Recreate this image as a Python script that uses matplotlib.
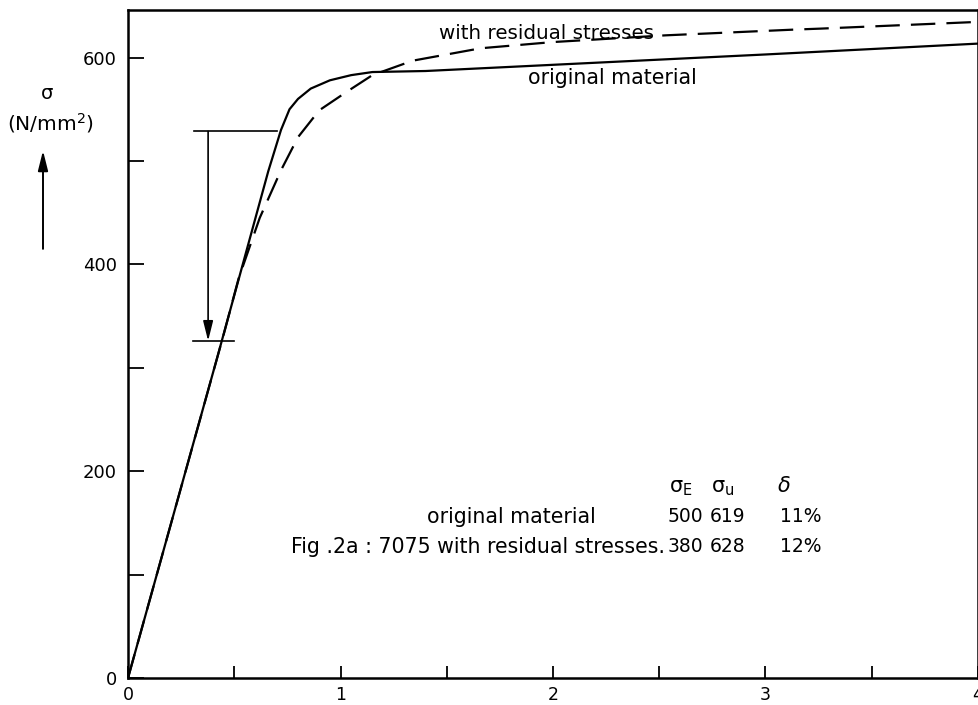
import matplotlib
matplotlib.use("Agg")
import matplotlib.pyplot as plt
import numpy as np

# stress-strain curves (strain in %, stress in N/mm2)
orig_x = [0, 0.42, 0.66, 0.72, 0.76, 0.80, 0.86, 0.95, 1.05, 1.15, 1.40, 2.0, 3.0, 4.0]
orig_y = [0, 310, 490, 530, 550, 560, 570, 578, 583, 586, 587, 593, 603, 613.5]

res_x = [0, 0.45, 0.52, 0.62, 0.72, 0.80, 0.90, 1.03, 1.15, 1.34, 1.66, 2.0, 2.53, 3.13, 3.26, 4.0]
res_y = [0, 332, 386, 445, 491, 523, 549, 567, 583, 597, 609, 615, 621.5, 627, 628, 634.5]

# stress drop marked by the arrow
drop_top = 528.6
drop_bottom = 326

# table of values
table_rows = ["original material", "Fig .2a : 7075 with residual stresses."]
sigma_e = ["500", "380"]
sigma_u = ["619", "628"]
delta = ["11%", "12%"]

plt.rcParams['font.family'] = ['DejaVu Sans']
plt.rcParams['mathtext.fontset'] = 'dejavusans'

fig = plt.figure(figsize=(9.79, 7.05), dpi=100)
ax = fig.add_axes([128 / 979, 27 / 705, 850 / 979, 668 / 705])

ax.plot(orig_x, orig_y, color='black', lw=1.6, solid_capstyle='butt')
ax.plot(res_x, res_y, color='black', lw=1.6, dashes=(11, 5))

ax.set_xlim(0, 4)
ax.set_ylim(0, 646)

for s in ax.spines.values():
    s.set_linewidth(1.8)

ax.set_xticks(np.arange(0, 4.01, 0.5))
ax.set_xticklabels(['0', '', '1', '', '2', '', '3', '', '4'])
ax.set_yticks(np.arange(0, 601, 100))
ax.set_yticklabels(['0', '', '200', '', '400', '', '600'])
ax.tick_params(axis='x', direction='in', length=8.5, width=1.3, pad=6, labelsize=12.5)
ax.tick_params(axis='y', direction='in', length=11.5, width=1.3, pad=8, labelsize=13)

# arrow showing the drop of the elastic limit
ax.plot([0.311, 0.702], [drop_top, drop_top], color='black', lw=1.2)
ax.plot([0.306, 0.50], [drop_bottom, drop_bottom], color='black', lw=1.2)
ax.annotate('', xy=(0.377, drop_bottom), xytext=(0.377, drop_top),
            arrowprops=dict(arrowstyle='-|>,head_length=1.2,head_width=0.3',
                            color='black', lw=1.2, shrinkA=0, shrinkB=0))

# curve labels
ax.text(1.97, 623, 'with residual stresses', ha='center', va='center', fontsize=14.3)
ax.text(2.28, 580, 'original material', ha='center', va='center', fontsize=14.8)

# table
fs = 14.8
ax.text(2.60, 184, r'σ$_\mathrm{E}$', ha='center', va='center', fontsize=15)
ax.text(2.80, 184, r'σ$_\mathrm{u}$', ha='center', va='center', fontsize=15)
ax.text(3.086, 186, r'$\delta$', ha='center', va='center', fontsize=15)
row_y = [156, 127]
for i in range(2):
    ax.text(2.525 if i else 2.20, row_y[i], table_rows[i], ha='right', va='center', fontsize=fs)
    ax.text(2.624, row_y[i], sigma_e[i], ha='center', va='center', fontsize=13.5)
    ax.text(2.822, row_y[i], sigma_u[i], ha='center', va='center', fontsize=13.5)
    ax.text(3.166, row_y[i], delta[i], ha='center', va='center', fontsize=13.5)

# y axis label with arrow
ax.text(-0.382, 565, 'σ', ha='center', va='center', fontsize=14, clip_on=False)
ax.text(-0.363, 537, r'(N/mm$^\mathrm{2}$)', ha='center', va='center', fontsize=14.5, clip_on=False)
ax.annotate('', xy=(-0.40, 510), xytext=(-0.40, 415), annotation_clip=False,
            arrowprops=dict(arrowstyle='-|>,head_length=1.2,head_width=0.3',
                            color='black', lw=1.4, shrinkA=0, shrinkB=0))

fig.savefig('out.png', dpi=100)
plt.close(fig)
